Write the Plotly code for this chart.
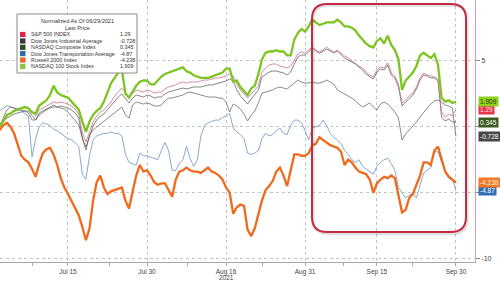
import plotly.graph_objects as go

# trading sessions since 06/29/2021 (half-session sampling)
session = [1.5 + 0.5 * i for i in range(128)]

ndx = [0.0, 0.4, 0.9, 1.0, 1.2, 1.3, 1.4, 1.5, 1.4, 1.1,
       1.0, 1.6, 1.8, 2.0, 2.4, 3.1, 2.6, 2.4, 2.3, 2.2,
       1.9, 1.6, 1.3, 0.4, -0.4, 0.4, 0.9, 1.2, 1.4, 1.9,
       2.6, 3.3, 3.7, 4.1, 4.3, 2.5, 2.2, 2.7, 3.1, 3.4,
       3.5, 3.5, 3.2, 3.2, 3.5, 3.8, 4.0, 4.1, 4.2, 4.3,
       4.4, 4.5, 4.2, 4.1, 3.9, 3.8, 3.7, 3.7, 3.7, 3.8,
       3.9, 4.0, 4.1, 4.4, 4.4, 3.4, 3.5, 3.0, 2.7, 2.4,
       2.9, 3.1, 4.0, 5.1, 5.6, 5.7, 5.7, 5.8, 5.7, 5.7,
       5.4, 5.4, 6.6, 7.1, 7.4, 7.2, 7.6, 8.1, 7.9, 7.7,
       7.8, 7.9, 7.9, 7.9, 8.1, 7.9, 7.6, 7.6, 7.5, 7.3,
       6.9, 6.6, 6.3, 6.1, 6.0, 6.5, 6.7, 6.3, 6.9, 6.2,
       5.8, 5.1, 2.8, 3.5, 3.8, 4.1, 4.6, 5.4, 5.6, 5.4,
       5.2, 5.5, 4.7, 2.2, 1.9, 2.0, 1.8, 1.909]

rty = [-0.25, 0.1, 0.3, 0.0, -0.5, -1.3, -2.2, -2.5, -2.7, -3.2,
       -3.8, -2.8, -2.0, -1.7, -1.6, -2.1, -2.9, -3.9, -4.6, -5.1,
       -5.6, -6.1, -6.7, -7.6, -8.6, -7.7, -5.6, -4.2, -3.7, -4.6,
       -5.1, -4.9, -4.8, -4.7, -4.6, -5.6, -6.2, -4.9, -3.7, -2.9,
       -3.4, -3.3, -3.7, -4.2, -4.4, -4.3, -4.3, -4.8, -5.3, -4.0,
       -3.4, -3.3, -3.1, -3.3, -3.4, -3.4, -3.5, -3.3, -3.1, -3.4,
       -3.5, -3.7, -4.0, -4.6, -5.0, -6.6, -6.1, -5.9, -6.0, -7.8,
       -8.3, -7.7, -6.6, -5.6, -4.8, -4.5, -4.1, -3.4, -3.1, -3.7,
       -4.5, -3.4, -2.1, -2.1, -2.2, -2.2, -2.0, -1.4, -1.3, -0.8,
       -1.0, -1.2, -1.4, -1.5, -1.6, -1.9, -2.9, -2.5, -2.7, -3.1,
       -3.4, -3.5, -3.6, -4.0, -5.0, -4.3, -4.0, -3.8, -3.9, -3.7,
       -3.9, -5.2, -6.5, -6.3, -5.4, -5.1, -4.4, -3.7, -2.7, -2.7,
       -2.9, -1.8, -1.5, -2.4, -3.4, -3.8, -4.0, -4.238]

spx = [0.20, 0.51, 0.81, 1.04, 1.19, 1.27, 1.34, 1.42, 1.42, 1.11,
       0.81, 1.27, 1.42, 1.57, 1.72, 1.87, 1.80, 1.87, 1.80, 1.72,
       1.57, 1.34, 0.96, -0.40, -1.16, -0.40, 0.36, 0.81, 1.11, 1.27,
       1.57, 1.87, 2.33, 2.63, 2.93, 2.63, 2.17, 2.55, 2.78, 2.70,
       2.63, 2.78, 2.70, 2.55, 2.63, 2.63, 2.86, 3.01, 3.08, 3.16,
       3.31, 3.39, 3.31, 3.39, 3.39, 3.39, 3.46, 3.54, 3.54, 3.61,
       3.69, 3.69, 3.77, 3.84, 3.99, 3.84, 3.23, 2.78, 2.48, 2.17,
       2.48, 2.78, 3.08, 4.14, 4.45, 4.67, 4.75, 4.75, 4.60, 4.52,
       4.45, 4.60, 5.05, 5.51, 5.66, 5.58, 5.81, 6.04, 5.81, 5.66,
       5.81, 6.04, 5.81, 5.66, 5.81, 5.58, 5.36, 5.20, 4.98, 4.83,
       4.60, 4.45, 4.14, 3.92, 3.77, 4.30, 4.52, 4.45, 4.83, 4.07,
       3.84, 3.23, 1.80, 2.02, 2.33, 2.55, 3.01, 3.69, 4.07, 3.92,
       3.84, 3.77, 3.61, 1.11, 0.73, 0.96, 0.81, 1.29]

ccmp = [0.13, 0.43, 0.66, 0.81, 0.96, 1.04, 1.11, 1.19, 1.19, 0.89,
        0.51, 1.04, 1.19, 1.34, 1.49, 1.64, 1.49, 1.57, 1.49, 1.42,
        1.27, 1.04, 0.66, -0.86, -1.54, -0.78, 0.05, 0.51, 0.81, 0.96,
        1.27, 1.57, 1.95, 2.25, 2.48, 2.17, 1.80, 2.17, 2.40, 2.33,
        2.25, 2.40, 2.33, 2.17, 2.25, 2.25, 2.48, 2.63, 2.70, 2.78,
        2.86, 2.93, 2.86, 2.93, 3.01, 3.01, 3.01, 3.08, 3.16, 3.16,
        3.23, 3.31, 3.39, 3.46, 3.61, 3.46, 2.78, 2.33, 2.02, 1.72,
        2.10, 2.40, 2.78, 3.77, 3.99, 4.14, 4.22, 4.22, 4.14, 4.07,
        3.92, 4.14, 4.75, 5.28, 5.43, 5.43, 5.66, 5.96, 5.73, 5.58,
        5.73, 5.89, 5.73, 5.58, 5.73, 5.43, 5.20, 5.05, 4.90, 4.75,
        4.52, 4.30, 3.99, 3.77, 3.61, 4.14, 4.37, 4.30, 4.67, 3.92,
        3.69, 3.01, 1.57, 1.87, 2.17, 2.40, 2.86, 3.54, 3.92, 3.84,
        3.69, 3.69, 3.46, 0.73, 0.43, 0.58, 0.36, 0.345]

indu = [0.05, 0.66, 1.27, 1.49, 1.42, 1.27, 1.27, 1.19, 1.04, 0.51,
        0.51, 0.89, 1.11, 1.27, 1.42, 1.49, 1.49, 1.42, 1.34, 1.11,
        0.81, 0.51, 0.13, -0.86, -1.77, -0.63, -0.25, -0.02, 0.20, 0.43,
        0.58, 0.81, 1.04, 1.27, 1.49, 0.89, 0.66, 1.64, 1.87, 1.80,
        1.72, 1.80, 1.72, 1.57, 1.57, 1.64, 1.95, 2.17, 2.17, 2.25,
        2.33, 2.40, 2.55, 2.63, 2.55, 2.48, 2.40, 2.33, 2.25, 2.25,
        2.25, 2.17, 2.17, 1.87, 1.11, 1.72, 1.57, 1.34, 0.96, 0.43,
        0.89, 1.19, 1.80, 2.55, 2.63, 2.70, 2.78, 2.93, 3.01, 2.93,
        2.86, 3.08, 3.31, 3.54, 3.39, 3.31, 3.31, 3.39, 3.31, 3.31,
        3.39, 3.54, 3.39, 3.23, 2.78, 2.63, 2.48, 2.33, 2.17, 1.95,
        1.72, 1.49, 1.64, 1.80, 1.49, 1.27, 1.72, 1.87, 1.72, 1.42,
        1.11, 0.66, -1.01, -0.55, -0.25, -0.02, 0.36, 0.73, 1.11, 1.42,
        1.72, 1.95, 2.02, 1.87, 1.64, 1.57, 1.42, -0.728]

tran = [1.2, 1.4, 1.6, 1.5, 1.4, 1.4, 1.2, 1.0, 0.8, -2.3,
        -0.9, 0.0, 0.3, 0.2, 0.1, -0.2, -0.3, -0.5, -0.7, -0.9,
        -1.0, -1.2, -1.5, -3.6, -4.0, -2.2, -1.0, -0.7, -0.6, -0.5,
        -0.5, -0.4, -0.5, -0.5, -0.7, -2.1, -2.7, -2.8, -2.9, -2.0,
        -2.2, -2.2, -2.3, -2.4, -2.5, -1.8, -1.2, -1.8, -3.3, -3.3,
        -2.8, -2.5, -1.5, -2.4, -3.0, -2.5, -0.7, 0.1, 0.3, 0.4,
        0.5, 0.5, 0.7, 0.8, 1.0, -0.1, -0.4, -0.6, -0.9, -2.0,
        -2.1, -2.0, -1.8, -0.9, -0.5, -0.7, -0.6, -0.3, -0.1, -0.5,
        -0.6, 0.1, 0.5, 0.5, 0.3, -0.3, -1.0, -0.1, -0.0, 0.1,
        0.5, 0.1, -0.5, -0.8, -1.0, -1.3, -1.8, -2.1, -2.5, -2.7,
        -2.5, -3.0, -3.2, -3.4, -3.6, -3.0, -2.7, -2.5, -2.4, -2.8,
        -3.3, -4.6, -5.0, -5.4, -5.2, -5.0, -5.4, -4.4, -3.5, -3.3,
        -3.1, -1.9, -1.9, -2.7, -3.3, -3.7, -3.9, -4.87]

legend_names = ["S&P 500 INDEX", "Dow Jones Industrial Average", "NASDAQ Composite Index",
                "Dow Jones Transportation Average", "Russell 2000 Index", "NASDAQ 100 Stock Index"]
last_price_text = ["1.29", "-0.728", "0.345", "-4.87", "-4.238", "1.909"]
last_price = [1.29, -0.728, 0.345, -4.87, -4.238, 1.909]
tick_sessions = [11, 22, 33, 44, 54, 65]
tick_labels = ["Jul 15", "Jul 30", "Aug 16", "Aug 31", "Sep 15", "Sep 30"]
minor_sessions = [6, 16.8, 27.7, 38.1, 49.3, 59]
y_ticks = [5, 0, -5, -10]
y_tick_text = ["5", "", "", "-10"]

legend_colors = ["#e3224a", "#3a3a3a", "#2f4d1f", "#2b6cb0", "#f26522", "#8cc63f"]
tag_bg = ["#e8334a", "#474747", "#3d5c1f", "#2e6eb5", "#f47920", "#8fd11e"]
tag_fg = ["#ffe6ea", "#ffffff", "#ffffff", "#ffffff", "#fff3e8", "#1d3a00"]

W, H = 500, 281
ML, MR, MT, MB = 0, 25, 0, 19
PW, PH = W - ML - MR, H - MT - MB


def px(x):
    return (x - ML) / PW


def py(y):
    return 1 - (y - MT) / PH


fig = go.Figure()

series = [
    (tran, "rgba(122,160,200,0.9)", 1.0),
    (indu, "rgba(110,110,110,0.8)", 1.0),
    (ccmp, "rgba(80,80,70,0.7)", 1.0),
    (spx, "rgba(205,120,150,0.85)", 1.0),
    (rty, "#ef6a1c", 2.3),
    (ndx, "#7cc520", 2.3),
]
for vals, col, w in series:
    fig.add_trace(go.Scatter(x=session, y=vals, mode="lines",
                             line=dict(color=col, width=w), hoverinfo="skip",
                             showlegend=False))

shapes = []


def rounded_path(x0, y0, x1, y1, r):
    pts = [
        ("M", (x0 + r, y0)), ("L", (x1 - r, y0)), ("Q", (x1, y0), (x1, y0 + r)),
        ("L", (x1, y1 - r)), ("Q", (x1, y1), (x1 - r, y1)), ("L", (x0 + r, y1)),
        ("Q", (x0, y1), (x0, y1 - r)), ("L", (x0, y0 + r)), ("Q", (x0, y0), (x0 + r, y0)),
    ]
    s = ""
    for p in pts:
        s += p[0] + " " + " ".join("%.5f,%.5f" % (px(a), py(b)) for a, b in p[1:]) + " "
    return s + "Z"


shapes.append(dict(type="path", xref="paper", yref="paper",
                   path=rounded_path(313.5, 5.5, 467.5, 234, 15),
                   line=dict(color="rgba(0,0,0,0.12)", width=2.5)))
shapes.append(dict(type="path", xref="paper", yref="paper",
                   path=rounded_path(312, 4, 466, 232, 15),
                   line=dict(color="#c42a40", width=2)))

# legend box
shapes.append(dict(type="rect", xref="paper", yref="paper",
                   x0=px(17), x1=px(137), y0=py(73), y1=py(14),
                   line=dict(color="#8a8a8a", width=1), fillcolor="white"))
ann = []
ann.append(dict(xref="paper", yref="paper", x=px(77), y=py(21.5), text="Normalized As Of 06/29/2021",
                showarrow=False, font=dict(size=5.6, color="#333"), xanchor="center", yanchor="middle"))
ann.append(dict(xref="paper", yref="paper", x=px(77), y=py(28), text="Last Price",
                showarrow=False, font=dict(size=5.6, color="#333"), xanchor="center", yanchor="middle"))
ys = [34.5, 41, 47.3, 53.6, 60, 66.4]
for i, nm in enumerate(legend_names):
    yc = ys[i]
    shapes.append(dict(type="rect", xref="paper", yref="paper",
                       x0=px(20), x1=px(25.5), y0=py(yc + 2.6), y1=py(yc - 2.6),
                       line=dict(width=0), fillcolor=legend_colors[i]))
    ann.append(dict(xref="paper", yref="paper", x=px(28.5), y=py(yc), text=nm, showarrow=False,
                    font=dict(size=5.4, color="#333"), xanchor="left", yanchor="middle"))
    ann.append(dict(xref="paper", yref="paper", x=px(117.5), y=py(yc), text=last_price_text[i],
                    showarrow=False, font=dict(size=5.4, color="#333"), xanchor="left", yanchor="middle"))

# last-price tags on the right axis
for i in range(6):
    ann.append(dict(xref="paper", yref="y", x=px(477.5), y=last_price[i], text=last_price_text[i],
                    showarrow=False, font=dict(size=6.5, color=tag_fg[i]), xanchor="left",
                    yanchor="middle", bgcolor=tag_bg[i], borderpad=1))

ann.append(dict(xref="x", yref="paper", x=33, y=py(277.5), text="2021", showarrow=False,
                font=dict(size=6.5, color="#444"), xanchor="center", yanchor="middle"))

fig.update_layout(
    width=W, height=H, margin=dict(l=ML, r=MR, t=MT, b=MB),
    paper_bgcolor="white", plot_bgcolor="white",
    font=dict(family="Liberation Sans, Arial, sans-serif", color="#333"),
    shapes=shapes, annotations=ann, showlegend=False, hovermode=False,
    xaxis=dict(range=[1.54, 67.65], tickvals=tick_sessions, ticktext=tick_labels,
               showgrid=True, gridcolor="#c4c4c4", griddash="dot", gridwidth=1,
               showline=True, linecolor="#a8a8a8", linewidth=1,
               ticks="outside", ticklen=3, tickcolor="#a8a8a8",
               tickfont=dict(size=6.5, color="#444"), zeroline=False,
               minor=dict(tickvals=minor_sessions, ticks="outside", ticklen=3,
                          tickcolor="#a8a8a8", showgrid=False)),
    yaxis=dict(range=[-10.25, 9.6], side="right", tickvals=y_ticks,
               ticktext=y_tick_text,
               showgrid=True, gridcolor="#c4c4c4", griddash="dot", gridwidth=1,
               showline=True, linecolor="#d3a3ad", linewidth=1,
               ticks="outside", ticklen=4, tickcolor="#888",
               tickfont=dict(size=7, color="#444"), zeroline=False),
)

fig.write_html("out.html", config={"displayModeBar": False, "staticPlot": True},
               post_script="document.body.style.margin='0px';document.body.style.overflow='hidden';")
